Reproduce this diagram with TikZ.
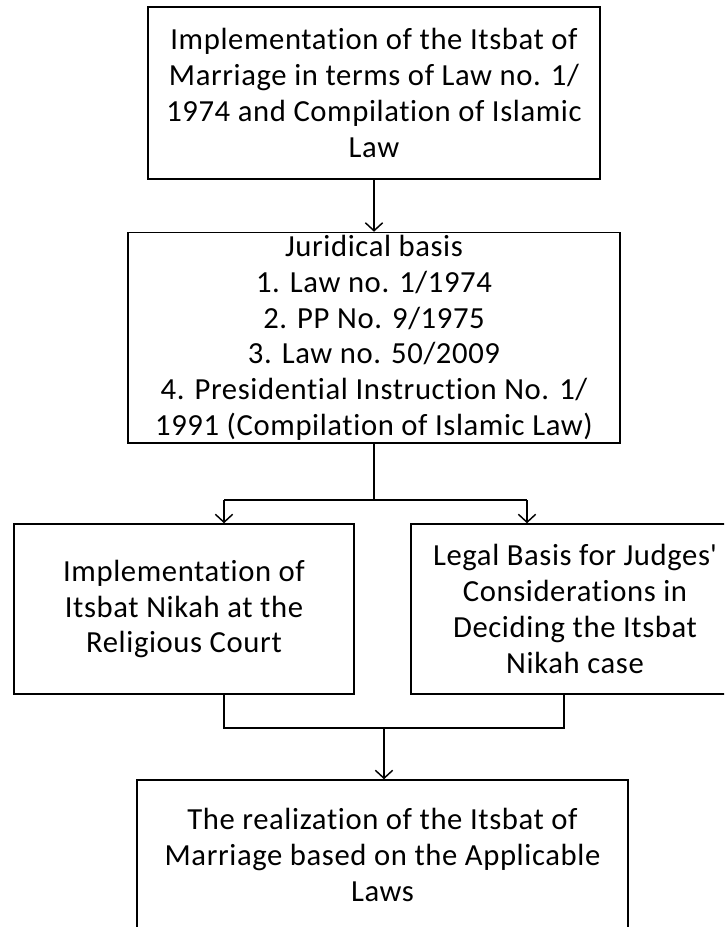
\documentclass[tikz,border=0pt]{standalone}
\usepackage{fontspec}
\setmainfont{Carlito}[Ligatures=NoCommon, LetterSpace=2]
\usetikzlibrary{positioning,arrows.meta}
\tikzset{pbox/.style={draw, line width=1.1pt, align=center, inner sep=0pt, font=\fontsize{23}{26.8}\selectfont}}
\tikzset{arr/.style={draw, -{Straight Barb[length=6pt,width=13pt]}, line width=1.1pt}}
\tikzset{lnk/.style={draw, line width=1.1pt}}

\begin{document}
\begin{tikzpicture}[x=0.75pt,y=-0.75pt]
			\useasboundingbox (0,0) rectangle (724,927);
			\clip (0,0) rectangle (724,927);
			\node[pbox, minimum width=339pt, minimum height=129pt] (impl) at (374,93)
				{Implementation of the Itsbat of\\Marriage in terms of Law no. 1/\\1974 and Compilation of Islamic\\Law};
			\node[pbox, minimum width=369pt, minimum height=158pt, below=39pt of impl] (basis)
				{Juridical basis\\1. Law no. 1/1974\\2. PP No. 9/1975\\3. Law no. 50/2009\\4. Presidential Instruction No. 1/\\1991 (Compilation of Islamic Law)};
			\node[pbox, minimum width=255pt, minimum height=127.5pt] (court) at (184,609)
				{Implementation of\\Itsbat Nikah at the\\Religious Court};
			\node[pbox, minimum width=246pt, minimum height=127.5pt] (judges) at (575,609)
				{Legal Basis for Judges\textquotesingle\\Considerations in\\Deciding the Itsbat\\Nikah case};
			\node[pbox, minimum width=368pt, minimum height=112.5pt] (real) at (382.5,855)
				{The realization of the Itsbat of\\Marriage based on the Applicable\\Laws};
			%
			\coordinate (sM) at (basis.south |- 0,500);
			\coordinate (sL) at (224,500);
			\coordinate (sR) at (527,500);
			\coordinate (jL) at (224,728);
			\coordinate (jR) at (564,728);
			\coordinate (jM) at (384,728);
			%
			\draw[arr] (impl) -- (basis);
			\draw[lnk] (basis) -- (sM) -- (sL);
			\draw[lnk] (sM) -- (sR);
			\draw[arr] (sL) -- (sL |- court.north);
			\draw[arr] (sR) -- (sR |- judges.north);
			\draw[lnk] (court.south -| jL) -- (jL) -- (jR) -- (judges.south -| jR);
			\draw[arr] (jM) -- (jM |- real.north);
		\end{tikzpicture}
\end{document}
